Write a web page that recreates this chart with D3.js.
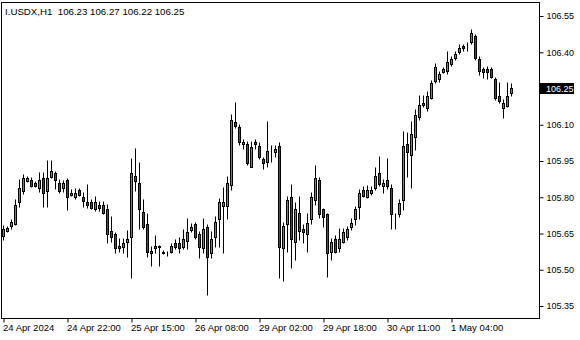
<!DOCTYPE html>
<html>
<head>
<meta charset="utf-8">
<script src="https://cdn.jsdelivr.net/npm/d3@7"></script>
<style>
  body { margin: 0; background: #fff; }
  svg text { font-family: "Liberation Sans", Arial, sans-serif; fill: #000; }
</style>
</head>
<body>
<div class="chart"></div>
<script>
// hourly I.USDX candles
var opens  = [105.640,105.660,105.681,105.689,105.780,105.826,105.867,105.871,105.859,105.838,
              105.880,105.826,105.884,105.900,105.859,105.838,105.871,105.809,105.801,105.830,
              105.801,105.780,105.780,105.751,105.768,105.768,105.751,105.660,105.648,105.598,
              105.594,105.615,105.636,105.888,105.859,105.739,105.689,105.569,105.590,105.598,
              105.569,105.569,105.573,105.611,105.611,105.594,105.619,105.664,105.689,105.648,
              105.590,105.677,105.569,105.636,105.710,105.764,105.764,105.851,106.111,106.091,
              106.020,106.020,105.925,106.029,106.012,105.958,105.946,105.980,105.987,106.012,
              105.590,105.689,105.801,105.615,105.735,105.669,105.648,105.710,105.789,105.871,
              105.751,105.731,105.573,105.627,105.590,105.615,105.636,105.677,105.710,105.760,
              105.830,105.801,105.818,105.838,105.900,105.847,105.871,105.838,105.718,105.731,
              105.789,106.020,105.975,106.049,106.132,106.190,106.169,106.211,106.281,106.289,
              106.318,106.322,106.351,106.376,106.401,106.426,106.426,106.442,106.467,106.372,
              106.331,106.331,106.331,106.289,106.219,106.169,106.178,106.230];
var highs  = [105.681,105.677,105.706,105.789,105.871,105.892,105.884,105.880,105.863,105.900,
              105.900,105.950,105.950,105.904,105.871,105.867,105.876,105.830,105.834,105.834,
              105.818,105.851,105.789,105.801,105.780,105.780,105.768,105.718,105.652,105.627,
              105.627,105.660,105.958,106.000,105.942,105.789,105.731,105.594,105.640,105.598,
              105.578,105.573,105.606,105.623,105.631,105.664,105.710,105.689,105.693,105.656,
              105.710,105.685,105.656,105.718,105.793,105.838,105.884,106.140,106.190,106.099,
              106.037,106.029,106.029,106.037,106.024,105.962,106.111,106.012,106.012,106.024,
              105.693,105.801,105.851,105.776,105.801,105.685,105.731,105.818,105.929,105.880,
              105.751,105.731,105.627,105.640,105.669,105.669,105.677,105.710,105.760,105.830,
              105.842,105.847,105.842,105.921,105.967,105.871,105.958,105.851,105.731,105.789,
              106.070,106.066,106.111,106.161,106.219,106.219,106.236,106.281,106.351,106.318,
              106.335,106.401,106.380,106.401,106.430,106.430,106.438,106.492,106.471,106.380,
              106.335,106.339,106.335,106.293,106.273,106.202,106.273,106.270];
var lows   = [105.623,105.656,105.669,105.685,105.760,105.813,105.863,105.842,105.842,105.822,
              105.760,105.760,105.880,105.834,105.818,105.822,105.747,105.805,105.793,105.805,
              105.760,105.755,105.751,105.743,105.743,105.731,105.611,105.615,105.569,105.573,
              105.569,105.553,105.466,105.826,105.669,105.669,105.553,105.516,105.569,105.516,
              105.565,105.557,105.569,105.586,105.569,105.586,105.586,105.656,105.627,105.549,
              105.569,105.395,105.549,105.594,105.594,105.569,105.710,105.830,106.087,106.016,
              105.999,105.933,105.925,105.999,105.958,105.917,105.925,105.946,105.967,105.466,
              105.453,105.573,105.507,105.540,105.623,105.611,105.573,105.689,105.768,105.714,
              105.677,105.470,105.540,105.569,105.573,105.611,105.623,105.664,105.685,105.710,
              105.801,105.797,105.809,105.830,105.847,105.818,105.834,105.669,105.669,105.718,
              105.747,105.884,105.838,105.996,106.120,106.173,106.157,106.207,106.273,106.277,
              106.314,106.310,106.343,106.368,106.393,106.405,106.405,106.434,106.368,106.306,
              106.293,106.289,106.293,106.202,106.190,106.128,106.173,106.220];
var closes = [105.669,105.673,105.698,105.768,105.838,105.880,105.880,105.847,105.847,105.871,
              105.818,105.880,105.909,105.871,105.826,105.859,105.801,105.818,105.818,105.809,
              105.784,105.768,105.755,105.780,105.755,105.735,105.648,105.636,105.590,105.590,
              105.611,105.627,105.900,105.867,105.751,105.677,105.573,105.578,105.598,105.596,
              105.573,105.569,105.598,105.594,105.590,105.627,105.656,105.677,105.636,105.594,
              105.669,105.553,105.627,105.698,105.780,105.780,105.859,106.120,106.095,106.029,
              106.029,105.942,106.008,106.020,105.967,105.942,105.991,105.979,105.999,105.594,
              105.681,105.789,105.627,105.751,105.660,105.656,105.693,105.801,105.880,105.731,
              105.718,105.569,105.615,105.573,105.627,105.656,105.669,105.693,105.751,105.818,
              105.805,105.830,105.830,105.888,105.855,105.859,105.847,105.731,105.718,105.776,
              106.012,105.987,106.062,106.140,106.182,106.182,106.219,106.273,106.339,106.310,
              106.331,106.360,106.372,106.393,106.418,106.418,106.424,106.480,106.376,106.322,
              106.318,106.318,106.298,106.211,106.198,106.190,106.219,106.250];

var timeLabels = ["24 Apr 2024","24 Apr 22:00","25 Apr 15:00","26 Apr 08:00",
                  "29 Apr 02:00","29 Apr 18:00","30 Apr 11:00","1 May 04:00"];
var timeLabelBars = [0, 16, 32, 48, 64, 80, 96, 112];
var priceTicks = [106.55, 106.40, 106.25, 106.10, 105.95, 105.80, 105.65, 105.50, 105.35];
var symbol = "I.USDX,H1";
var lastQuote = [106.23, 106.27, 106.22, 106.25];

var W = 580, H = 340;
var frame = {left: 1.5, top: 2.5, right: 539.5, bottom: 318.5};
var bullColor = "#22bb22", bearColor = "#ff0000";

var candles = opens.map(function(o, i) {
  return {i: i, o: o, h: highs[i], l: lows[i], c: closes[i]};
});

var svg = d3.select(".chart").append("svg")
    .attr("width", W)
    .attr("height", H);

var x = d3.scaleLinear()
    .domain([0, candles.length - 1])
    .range([3.5, 3.5 + 4 * (candles.length - 1)]);

var y = d3.scaleLinear()
    .domain([105.35, 106.55])
    .range([306, 16]);

// frame
svg.append("rect")
    .attr("x", frame.left)
    .attr("y", frame.top)
    .attr("width", frame.right - frame.left)
    .attr("height", frame.bottom - frame.top)
    .attr("fill", "none")
    .attr("stroke", "#000")
    .attr("stroke-width", 1);

// wicks
svg.selectAll(".wick")
    .data(candles)
    .enter().append("line")
    .attr("class", "wick")
    .attr("x1", function(d){ return x(d.i); })
    .attr("x2", function(d){ return x(d.i); })
    .attr("y1", function(d){ return Math.round(y(d.h)) - 0.5; })
    .attr("y2", function(d){ return Math.round(y(d.l)) + 0.5; })
    .attr("stroke", "#000")
    .attr("stroke-width", 1);

// bodies
svg.selectAll(".body")
    .data(candles)
    .enter().append("rect")
    .attr("class", "body")
    .attr("x", function(d){ return x(d.i) - 1; })
    .attr("y", function(d){ return Math.round(y(Math.max(d.o, d.c))) + 0.5; })
    .attr("width", 2)
    .attr("height", function(d){
      return Math.max(0, Math.round(y(Math.min(d.o, d.c))) - Math.round(y(Math.max(d.o, d.c))));
    })
    .attr("fill", function(d){ return d.c >= d.o ? bullColor : bearColor; })
    .attr("stroke", "#000")
    .attr("stroke-width", 1);

// time axis
var xAxis = d3.axisBottom(x)
    .tickValues(timeLabelBars)
    .tickSize(4)
    .tickPadding(2)
    .tickFormat(function(d, i){ return timeLabels[i]; });

var gx = svg.append("g")
    .attr("transform", "translate(0," + frame.bottom + ")")
    .call(xAxis);
gx.select(".domain").remove();
gx.selectAll("text")
    .attr("text-anchor", "start")
    .attr("x", -1)
    .style("font-size", "9.5px");

// price axis
var yAxis = d3.axisRight(y)
    .tickValues(priceTicks)
    .tickSize(4)
    .tickPadding(3)
    .tickFormat(d3.format(".2f"));

var gy = svg.append("g")
    .attr("transform", "translate(" + frame.right + ",0)")
    .call(yAxis);
gy.select(".domain").remove();
gy.selectAll("text").style("font-size", "9px");

// last price marker
var lastY = y(closes[closes.length - 1]);
var marker = svg.append("g")
    .attr("transform", "translate(" + frame.right + "," + lastY + ")");
marker.append("rect")
    .attr("x", 0.5)
    .attr("y", -5.5)
    .attr("width", 34)
    .attr("height", 11)
    .attr("fill", "#000");
marker.append("text")
    .attr("x", 6.5)
    .attr("dy", "0.34em")
    .style("font-size", "9px")
    .style("fill", "#fff")
    .text(d3.format(".2f")(closes[closes.length - 1]));

// header (keep the double space after the symbol)
svg.append("text")
    .attr("x", 5)
    .attr("y", 15)
    .style("font-size", "9.7px")
    .style("white-space", "pre")
    .text(symbol + "  " + lastQuote.map(d3.format(".2f")).join(" "));
</script>
</body>
</html>
